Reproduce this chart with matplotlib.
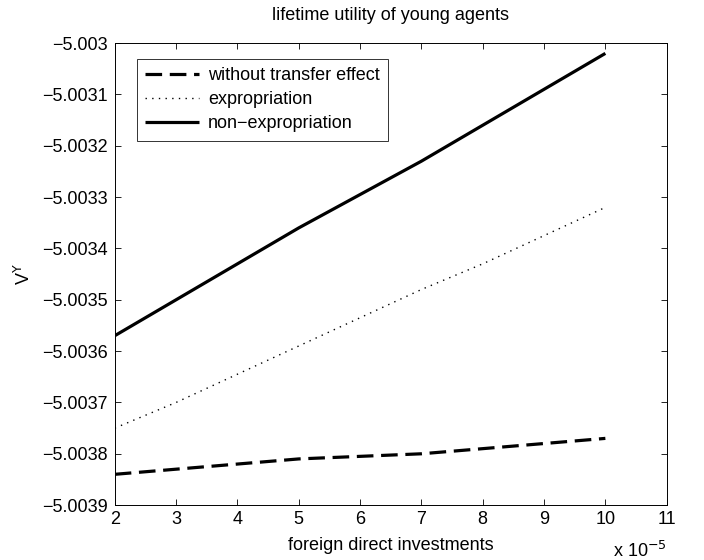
"""Lifetime utility of young agents against foreign direct investment."""

import matplotlib.pyplot as plt
from matplotlib.ticker import FixedLocator, FuncFormatter

plt.rcParams.update(
    {
        "font.family": ["Liberation Sans", "DejaVu Sans"],
        "font.size": 13,
        "axes.linewidth": 0.7,
        "xtick.direction": "in",
        "ytick.direction": "in",
        "xtick.top": True,
        "ytick.right": True,
        "xtick.major.size": 4,
        "ytick.major.size": 4,
        "xtick.major.width": 0.6,
        "ytick.major.width": 0.6,
    }
)

# foreign direct investments, in units of 1e-5
fdi = [2, 3, 4, 5, 6, 7, 8, 9, 10]
without_transfer = [-5.00384, -5.00383, -5.00382, -5.00381, -5.003805,
                    -5.00380, -5.00379, -5.00378, -5.00377]
expropriation = [-5.00375, -5.00370, -5.003645, -5.00359, -5.003535,
                 -5.00348, -5.00343, -5.003375, -5.00332]
non_expropriation = [-5.00357, -5.00350, -5.00343, -5.00336, -5.003295,
                     -5.00323, -5.00316, -5.00309, -5.00302]

x_ticks = [2, 3, 4, 5, 6, 7, 8, 9, 10, 11]
y_ticks = [-5.0039, -5.0038, -5.0037, -5.0036, -5.0035,
           -5.0034, -5.0033, -5.0032, -5.0031, -5.003]

fig = plt.figure(figsize=(7.04, 5.6), dpi=100)
ax = fig.add_axes([0.163, 0.098, 0.784, 0.825])

ax.plot(fdi, without_transfer, color="black", linewidth=2.3,
        dashes=(5.2, 2.4), label="without transfer effect")
ax.plot(fdi, expropriation, color="black", linewidth=1.0,
        dashes=(1.0, 3.8), label="expropriation")
ax.plot(fdi, non_expropriation, color="black", linewidth=2.3,
        solid_capstyle="butt", label="non\u2212expropriation")

ax.set_xlim(2, 11)
ax.set_ylim(-5.0039, -5.003)
ax.xaxis.set_major_locator(FixedLocator(x_ticks))
ax.yaxis.set_major_locator(FixedLocator(y_ticks))
ax.yaxis.set_major_formatter(
    FuncFormatter(lambda v, _: f"{v:.5f}".rstrip("0").replace("-", "\u2212"))
)
ax.tick_params(axis="x", pad=4)
ax.tick_params(axis="y", pad=5)

ax.set_title("lifetime utility of young agents", fontsize=13, pad=17)
ax.set_xlabel("foreign direct investments", labelpad=7)
ax.set_ylabel(r"V$^{\mathrm{Y}}$", labelpad=6)
ax.text(1.0, -0.078, "x 10$^{\u2212\mathrm{5}}$", transform=ax.transAxes,
        ha="right", va="top", fontsize=13)

leg = ax.legend(loc="upper left", bbox_to_anchor=(0.04, 0.966),
                frameon=True, fancybox=False, handlelength=3.0,
                borderpad=0.45, labelspacing=0.4, handletextpad=0.5,
                borderaxespad=0.0)
leg.get_frame().set_edgecolor("black")
leg.get_frame().set_linewidth(0.7)

fig.savefig("out.png", dpi=100)
